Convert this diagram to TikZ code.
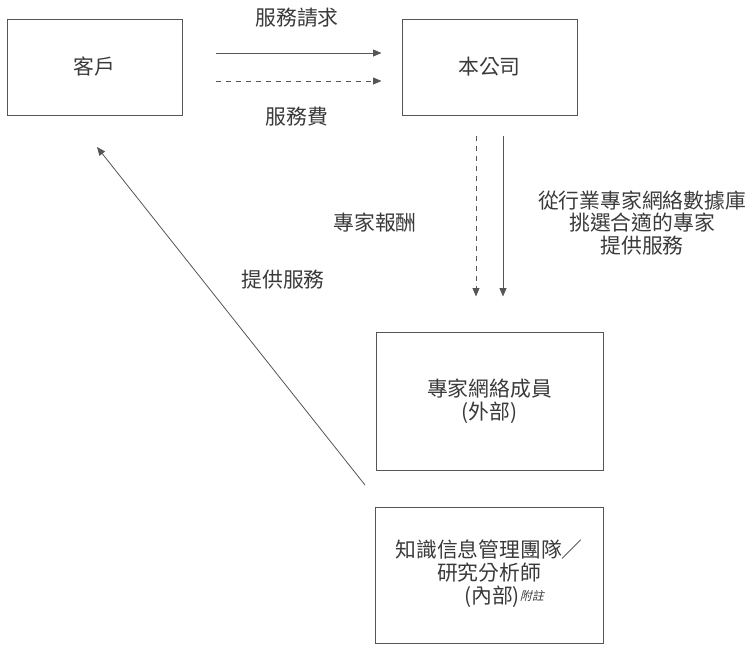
\documentclass[tikz,border=0pt]{standalone}
\usepackage{fontspec}
\newfontfamily\cjk{Noto Sans CJK TC}
\newfontfamily\cjkit[FakeSlant=0.25]{Noto Sans CJK TC}
\usetikzlibrary{arrows.meta}
\definecolor{ink}{HTML}{3A3A3A}
\definecolor{linec}{HTML}{555555}
\tikzset{
  box/.style={draw=linec, line width=1pt, rectangle, inner sep=0pt},
  lbl/.style={font=\cjk\fontsize{20.8}{22.8}\selectfont, text=ink, align=center, inner sep=0pt},
  arr/.style={draw=linec, line width=0.8pt, -{Triangle[length=8.5pt,width=7pt]}},
  dsh/.style={arr, dash pattern=on 5pt off 5pt},
}
\begin{document}
\begin{tikzpicture}[x=1pt,y=-1pt]
\useasboundingbox (0,0) rectangle (755,649);
% boxes
\node[box, minimum width=175pt, minimum height=96pt] (client) at (94.5,67) {};
\node[lbl] at (client.center) {客戶};
\node[box, minimum width=175pt, minimum height=96pt] (company) at (489.5,67) {};
\node[lbl] at (company.center) {本公司};
\node[box, minimum width=227pt, minimum height=138pt] (expert) at (489.5,401) {};
\node[lbl] (experttext) at (489.5,401.5) {專家網絡成員\\(外部)};
\node[box, minimum width=228pt, minimum height=136pt] (kim) at (489,575) {};
\node[lbl] (kimtext) at (489,573.5) {知識信息管理團隊／\\研究分析師\\\hspace*{30pt}(內部)\raisebox{3pt}{\cjkit\fontsize{12}{13}\selectfont 附註}};
% horizontal arrows
\draw[arr, shorten <=33pt, shorten >=20pt] ([yshift=14pt]client.east) -- ([yshift=14pt]company.west);
\draw[dsh, shorten <=33pt, shorten >=20pt] ([yshift=-14pt]client.east) -- ([yshift=-14pt]company.west);
\node[lbl] (req) at (297,18) {服務請求};
\node[lbl] (fee) at (297,117) {服務費};
% vertical arrows
\draw[dsh, shorten <=20pt, shorten >=35pt] ([xshift=-13.5pt]company.south) -- ([xshift=-13.5pt]company.south |- expert.north);
\draw[arr, shorten <=20pt, shorten >=35pt] ([xshift=13.5pt]company.south) -- ([xshift=13.5pt]company.south |- expert.north);
\node[lbl] (pay) at (375,223) {專家報酬};
\node[lbl] (select) at (642,223) {從行業專家網絡數據庫\\挑選合適的專家\\提供服務};
% diagonal arrow
\coordinate (dstart) at (365,485);
\coordinate (dend) at (97,147);
\draw[arr] (dstart) -- (dend);
\node[lbl] (serve) at (283,280) {提供服務};
\end{tikzpicture}
\end{document}
